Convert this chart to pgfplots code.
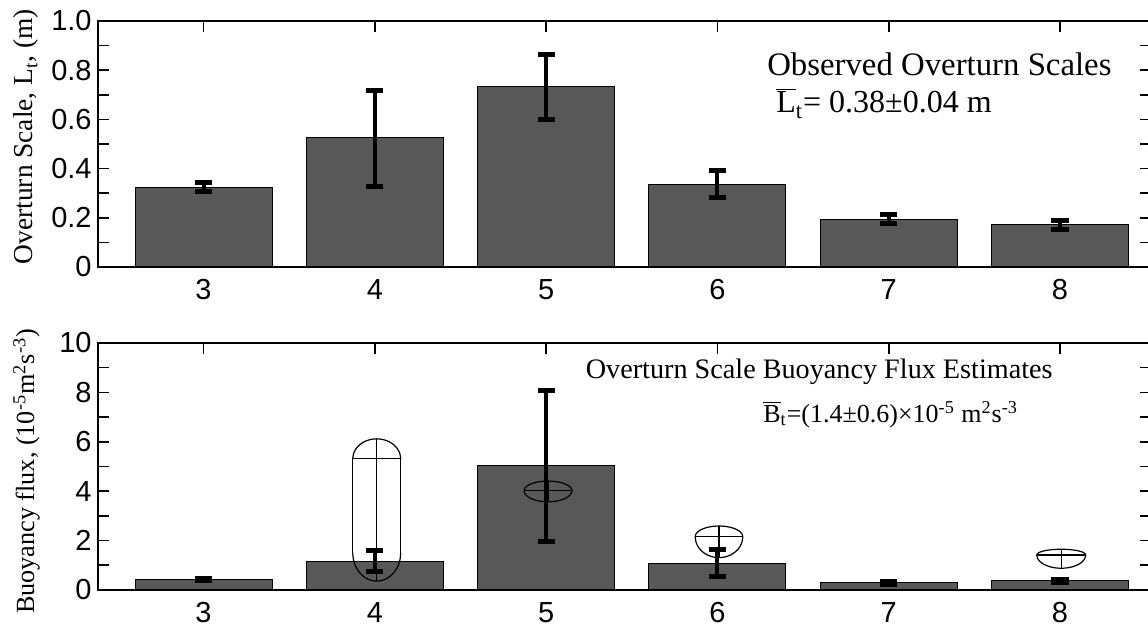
\documentclass[border=0pt]{standalone}
\usepackage{fontspec}
\setmainfont{Liberation Serif}
\newfontfamily\ticksf{Liberation Sans}
\usepackage{pgfplots}
\pgfplotsset{compat=1.18}
\usepackage{pgfplotstable}
\definecolor{barfill}{RGB}{88,88,88}

% unit half curve (cos, sin) used for the outlined shapes
\pgfplotstableread{
c s
1 0
0.966 0.259
0.866 0.5
0.707 0.707
0.5 0.866
0.259 0.966
0 1
-0.259 0.966
-0.5 0.866
-0.707 0.707
-0.866 0.5
-0.966 0.259
-1 0
}\halfcurve

\pgfplotstableread{
x y
3 0.324
4 0.526
5 0.733
6 0.337
7 0.195
8 0.171
}\topbars

\pgfplotstableread{
x y
3 0.43
4 1.15
5 5.03
6 1.08
7 0.30
8 0.38
}\botbars

% #1 centre x, #2 dividing line y, #3 half width, #4 height above,
% #5 y where the lower rounding starts, #6 depth of the lower rounding
\newcommand{\blob}[6]{%
 \addplot[black, line width=0.6pt, smooth] table[x expr={#1+#3*\thisrow{c}}, y expr={#2+#4*\thisrow{s}}]{\halfcurve};
 \addplot[black, line width=0.6pt, smooth] table[x expr={#1+#3*\thisrow{c}}, y expr={#5-#6*\thisrow{s}}]{\halfcurve};
 \addplot[black, line width=0.6pt] coordinates {(#1-#3,#2) (#1-#3,#5)};
 \addplot[black, line width=0.6pt] coordinates {(#1+#3,#2) (#1+#3,#5)};
 \addplot[black, line width=0.6pt] coordinates {(#1-#3,#2) (#1+#3,#2)};
 \addplot[black, line width=0.6pt] coordinates {(#1,#2+#4) (#1,#5-#6)};
}

\pgfplotsset{panel/.style={
  width=526.5pt, height=123pt, scale only axis, anchor=south west,
  xmin=2.384, xmax=8.531, ymin=0,
  xtick={3,4,5,6,7,8}, xtick pos=right, xticklabel pos=left,
  minor y tick num=1, ytick pos=both, yticklabel pos=left,
  tick align=inside, major tick length=5.5pt, minor tick length=5.5pt,
  tick style={black, line width=0.8pt},
  axis line style={black, line width=1.1pt},
  /pgf/number format/assume math mode=true,
  tick label style={font=\ticksf\fontsize{14.5}{16}\selectfont},
  xticklabel style={inner ysep=6pt},
  yticklabel style={inner xsep=3pt},
  errbar/.style={draw=none, forget plot,
    error bars/.cd, y dir=both, y explicit,
    error bar style={draw=black, solid, line width=2pt},
    error mark options={rotate=90, draw=black, solid, mark size=4.3pt, line width=2.5pt}},
  barstyle/.style={ybar, bar width=0.8, fill=barfill, draw=black, line width=0.5pt},
}}

\begin{document}
\begin{tikzpicture}
\useasboundingbox (0,0) rectangle (574pt,315pt);
% top panel
\begin{axis}[panel, at={(49pt,181.5pt)},
  ymax=1, ytick={0,0.2,0.4,0.6,0.8,1.0}, yticklabels={0,0.2,0.4,0.6,0.8,1.0},
  ylabel={Overturn Scale, L\textsubscript{t}, (m)},
  every axis y label/.style={at={(axis description cs:-0.068,0.53)}, rotate=90, anchor=center, font=\fontsize{13.7}{15}\selectfont}]
\addplot[barstyle] table[x=x,y=y]{\topbars};
\addplot[errbar] coordinates {
 (3,0.325) +- (0,0.020)
 (4,0.524) +- (0,0.195)
 (5,0.732) +- (0,0.131)
 (6,0.338) +- (0,0.056)
 (7,0.196) +- (0,0.019)
 (8,0.171) +- (0,0.018)
};
\node[anchor=base east, font=\fontsize{16.4}{18}\selectfont, inner sep=0pt] at (axis cs:8.303,0.78) {Observed Overturn Scales};
\node[anchor=base west, font=\fontsize{16}{18}\selectfont, inner sep=0pt] at (axis cs:6.342,0.626) {$\overline{\mbox{L}}$\textsubscript{t}= 0.38±0.04 m};
\end{axis}
% bottom panel
\begin{axis}[panel, at={(49pt,20pt)}, height=123.5pt,
  ymax=10, ytick={0,2,4,6,8,10}, yticklabels={0,2,4,6,8,10},
  ylabel={Buoyancy flux, (10\textsuperscript{-5}m\textsuperscript{2}s\textsuperscript{-3})},
  every axis y label/.style={at={(axis description cs:-0.068,0.48)}, rotate=90, anchor=center, font=\fontsize{13.1}{15}\selectfont}]
\addplot[barstyle] table[x=x,y=y]{\botbars};
\blob{4.011}{5.31}{0.14}{0.81}{1.5}{1.14}
\blob{5.011}{4.02}{0.14}{0.39}{4.02}{0.45}
\blob{6.009}{2.16}{0.139}{0.43}{2.16}{0.85}
\blob{8.007}{1.42}{0.143}{0.23}{1.42}{0.54}
\addplot[errbar] coordinates {
 (3,0.42) +- (0,0.05)
 (4,1.165) +- (0,0.425)
 (5,5.02) +- (0,3.07)
 (6,1.09) +- (0,0.545)
 (7,0.28) +- (0,0.05)
 (8,0.36) +- (0,0.05)
};
\node[anchor=base east, font=\fontsize{14.1}{16}\selectfont, inner sep=0pt] at (axis cs:7.959,8.58) {Overturn Scale Buoyancy Flux Estimates};
\node[anchor=base west, font=\fontsize{13}{15}\selectfont, inner sep=0pt] at (axis cs:6.266,6.80) {$\overline{\mbox{B}}$\textsubscript{t}=(1.4±0.6)×10\textsuperscript{-5} m\textsuperscript{2}s\textsuperscript{-3}};
\end{axis}
\end{tikzpicture}
\end{document}
